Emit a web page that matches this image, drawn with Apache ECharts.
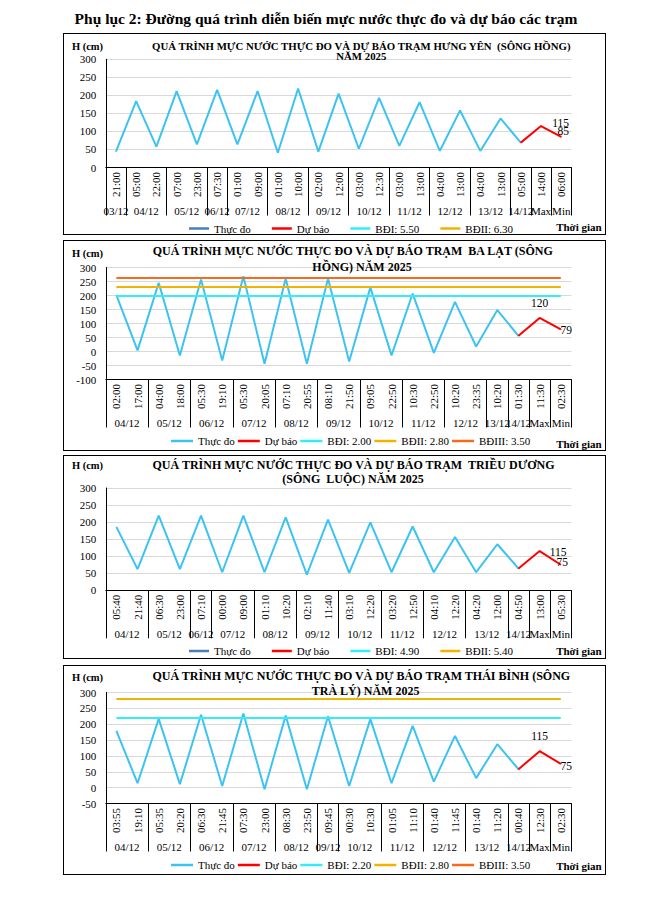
<!DOCTYPE html>
<html>
<head>
<meta charset="utf-8">
<script src="https://cdn.jsdelivr.net/npm/echarts@6/dist/echarts.min.js"></script>
<style>
  html, body { margin: 0; padding: 0; background: #fff; }
  body { width: 652px; height: 901px; position: relative; overflow: hidden; font-family: 'Liberation Serif', 'Times New Roman', serif; }
  #pageTitle { position: absolute; left: 0; width: 652px; top: 10px; text-align: center; font-weight: bold; font-size: 15.5px; line-height: 18px; color: #000; }
  .panel { position: absolute; left: 63px; width: 543px; }
  .frame { position: absolute; left: 63px; width: 543px; border: 1px solid #000; box-sizing: border-box; pointer-events: none; }
</style>
</head>
<body>
<div id="pageTitle">Phụ lục 2: Đường quá trình diễn biến mực nước thực đo và dự báo các trạm</div>
<div id="p1" class="panel"></div><div id="f1" class="frame"></div>
<div id="p2" class="panel"></div><div id="f2" class="frame"></div>
<div id="p3" class="panel"></div><div id="f3" class="frame"></div>
<div id="p4" class="panel"></div><div id="f4" class="frame"></div>
<script>
// ================= DATA =================
// --- Panel 1: Hưng Yên (sông Hồng)
const title1 = ['QUÁ TRÌNH MỰC NƯỚC THỰC ĐO VÀ DỰ BÁO TRẠM HƯNG YÊN  (SÔNG HỒNG)', 'NĂM 2025'];
const times1 = ['21:00','05:00','22:00','07:00','23:00','07:30','01:00','09:00','01:00','10:00','02:00','12:00','03:00','12:30','03:00','13:00','04:00','13:00','04:00','13:00','05:00','14:00','06:00'];
const dates1 = ['03/12','04/12','05/12','06/12','07/12','08/12','09/12','10/12','11/12','12/12','13/12','14/12','Max','Min'];
const dateSpans1 = [1,2,2,1,2,2,2,2,2,2,2,1,1,1];
const measured1 = [44,184,58,212,64,215,64,212,41,219,44,205,52,193,60,181,46,158,46,136,69,null,null];
const forecast1 = [null,null,null,null,null,null,null,null,null,null,null,null,null,null,null,null,null,null,null,null,69,115,85];
const levelNames1 = ['BĐI: 5.50','BĐII: 6.30'];
const levelValues1 = [550, 630];
const yTicks1 = [0, 300, 50];

// --- Panel 2: Ba Lạt (sông Hồng)
const title2 = ['QUÁ TRÌNH MỰC NƯỚC THỰC ĐO VÀ DỰ BÁO TRẠM  BA LẠT (SÔNG', 'HỒNG) NĂM 2025'];
const times2 = ['02:00','17:00','04:00','18:00','05:30','19:10','05:30','20:05','07:10','20:55','08:10','21:50','09:05','22:50','10:30','22:50','10:20','23:35','10:20','01:30','11:30','02:30'];
const dates2 = ['04/12','05/12','06/12','07/12','08/12','09/12','10/12','11/12','12/12','13/12','14/12','Max','Min'];
const dateSpans2 = [2,2,2,2,2,2,2,2,2,1,1,1,1];
const measured2 = [201,4,245,-14,257,-32,269,-44,261,-44,261,-36,229,-14,207,-5,177,18,148,56,null,null];
const forecast2 = [null,null,null,null,null,null,null,null,null,null,null,null,null,null,null,null,null,null,null,56,120,79];
const levelNames2 = ['BĐI: 2.00','BĐII: 2.80','BĐIII: 3.50'];
const levelValues2 = [200, 230, 263];
const yTicks2 = [-100, 300, 50];

// --- Panel 3: Triều Dương (sông Luộc)
const title3 = ['QUÁ TRÌNH MỰC NƯỚC THỰC ĐO VÀ DỰ BÁO TRẠM  TRIỀU DƯƠNG', '(SÔNG  LUỘC) NĂM 2025'];
const times3 = ['05:40','21:40','06:30','23:00','07:10','00:00','09:00','01:10','10:20','02:10','11:40','03:10','12:20','03:20','12:50','04:10','12:20','04:20','12:00','04:50','13:00','05:30'];
const dates3 = ['04/12','05/12','06/12','07/12','08/12','09/12','10/12','11/12','12/12','13/12','14/12','Max','Min'];
const dateSpans3 = [2,2,1,2,2,2,2,2,2,2,1,1,1];
const measured3 = [186,62,219,62,219,53,219,53,214,46,207,51,199,53,187,53,156,53,135,64,null,null];
const forecast3 = [null,null,null,null,null,null,null,null,null,null,null,null,null,null,null,null,null,null,null,64,115,75];
const levelNames3 = ['BĐI: 4.90','BĐII: 5.40'];
const levelValues3 = [490, 540];
const yTicks3 = [0, 300, 50];

// --- Panel 4: Thái Bình (sông Trà Lý)
const title4 = ['QUÁ TRÌNH MỰC NƯỚC THỰC ĐO VÀ DỰ BÁO TRẠM THÁI BÌNH (SÔNG', 'TRÀ LÝ) NĂM 2025'];
const times4 = ['03:55','19:10','05:35','20:20','06:30','21:45','07:30','23:00','08:30','23:50','09:45','00:30','10:30','01:05','11:10','01:40','11:45','01:40','11:20','00:40','12:30','02:30'];
const dates4 = ['04/12','05/12','06/12','07/12','08/12','09/12','10/12','11/12','12/12','13/12','14/12','Max','Min'];
const dateSpans4 = [2,2,2,2,2,1,2,2,2,2,1,1,1];
const measured4 = [179,14,217,11,230,5,234,-5,227,-5,225,5,216,14,195,19,163,30,137,58,null,null];
const forecast4 = [null,null,null,null,null,null,null,null,null,null,null,null,null,null,null,null,null,null,null,58,115,75];
const levelNames4 = ['BĐI: 2.20','BĐII: 2.80','BĐIII: 3.50'];
const levelValues4 = [220, 280, 350];
const yTicks4 = [-50, 300, 50];

const seriesNames = ['Thực đo', 'Dự báo'];
const yName = 'H (cm)';
const xName = 'Thời gian';

// ================= STYLE / LAYOUT =================
const FONT = "'Liberation Serif', 'Times New Roman', serif";
const C_MEAS = '#3CC3F2';
const C_FORE = '#FF0000';
const C_LEVEL = ['#33EEF5', '#F0B400', '#F96A1B'];
const C_LEG_MEAS_DARK = '#4A7EBB';

const layouts = [
  { el:'p1', fr:'f1', top:33, height:201, gTop:26.3, gH:108.2, tSize:10.8,
    t1:[298.3,12.5], t2:[298.3,22.8], hY:13, xnY:193.7, legY:195.5, legLeft:126, legGap:21, itemW:20,
    legMeasColor:C_LEG_MEAS_DARK, maxOff:[19.5,-3.5], minOff:[2,-5.5] },
  { el:'p2', fr:'f2', top:240, height:210, gTop:27.5, gH:112, tSize:12,
    t1:[289.7,10.7], t2:[299,27], hY:13.5, xnY:203.5, legY:201, legLeft:108, legGap:3, itemW:22,
    legMeasColor:C_MEAS, maxOff:[0,-14.5], minOff:[5.5,1] },
  { el:'p3', fr:'f3', top:455, height:203, gTop:33, gH:102.3, tSize:12,
    t1:[290.5,9.5], t2:[290,24.3], hY:10, xnY:195.7, legY:196, legLeft:126, legGap:21, itemW:20,
    legMeasColor:C_LEG_MEAS_DARK, maxOff:[18.5,0.5], minOff:[1.5,-3] },
  { el:'p4', fr:'f4', top:665, height:209, gTop:27.5, gH:111, tSize:12,
    t1:[298.3,10.7], t2:[302.6,26.2], hY:12.5, xnY:200.7, legY:200, legLeft:108, legGap:3, itemW:22,
    legMeasColor:C_MEAS, maxOff:[0,-15], minOff:[5.5,2] }
];
const GRID_LEFT = 42.8, GRID_W = 465.6, PANEL_W = 543, EXTRA_H = 12, LEG_H = 14;

const datasets = [
  { title:title1, times:times1, dates:dates1, spans:dateSpans1, meas:measured1, fore:forecast1, lvN:levelNames1, lvV:levelValues1, y:yTicks1 },
  { title:title2, times:times2, dates:dates2, spans:dateSpans2, meas:measured2, fore:forecast2, lvN:levelNames2, lvV:levelValues2, y:yTicks2 },
  { title:title3, times:times3, dates:dates3, spans:dateSpans3, meas:measured3, fore:forecast3, lvN:levelNames3, lvV:levelValues3, y:yTicks3 },
  { title:title4, times:times4, dates:dates4, spans:dateSpans4, meas:measured4, fore:forecast4, lvN:levelNames4, lvV:levelValues4, y:yTicks4 }
];

function build(D, L) {
  const el = document.getElementById(L.el);
  const H = L.height + EXTRA_H;
  el.style.top = L.top + 'px'; el.style.height = H + 'px';
  const fr = document.getElementById(L.fr);
  fr.style.top = L.top + 'px'; fr.style.height = (L.height + 1) + 'px';
  const chart = echarts.init(el, null, { renderer: 'svg', width: PANEL_W, height: H });
  const N = D.times.length;

  // boundaries and centres of the date groups (second level of the category axis)
  const bounds = [0], centres = [], nameAt = {};
  let acc = 0;
  D.spans.forEach((s, i) => { const c = acc + s / 2; centres.push(c); nameAt[String(c)] = D.dates[i]; acc += s; bounds.push(acc); });

  const foreItems = D.fore.map((v, i) => {
    if (i === N - 2) return { value: v, label: { show: true, position: 'inside', offset: L.maxOff } };
    if (i === N - 1) return { value: v, label: { show: true, position: 'inside', offset: L.minOff } };
    return v;
  });

  const txt = (text, left, top, align, size, bold) => ({
    text, left, top, textAlign: align, textVerticalAlign: 'middle', padding: 0, itemGap: 0,
    textStyle: { fontFamily: FONT, fontSize: size, fontWeight: bold ? 'bold' : 'normal', color: '#000' }
  });

  const levelColors = D.lvN.map((n, i) => C_LEVEL[i]);
  const legendData = [{ name: seriesNames[0], itemStyle: { color: L.legMeasColor } }, { name: seriesNames[1] }]
    .concat(D.lvN.map(n => ({ name: n })));

  const option = {
    animation: false,
    backgroundColor: 'transparent',
    textStyle: { fontFamily: FONT },
    title: [
      txt(D.title[0], L.t1[0], L.t1[1], 'center', L.tSize, true),
      txt(D.title[1], L.t2[0], L.t2[1], 'center', L.tSize, true),
      txt(yName, 24.5, L.hY, 'center', 10.5, true),
      txt(xName, 538.7, L.xnY, 'right', 11, true)
    ],
    legend: {
      data: legendData, left: L.legLeft, bottom: H - (L.legY + LEG_H / 2), orient: 'horizontal',
      icon: 'rect', itemWidth: L.itemW, itemHeight: 2.5, itemGap: L.legGap, padding: 0,
      textStyle: { fontFamily: FONT, fontSize: 11, color: '#000', lineHeight: LEG_H }, selectedMode: false
    },
    grid: { left: GRID_LEFT, top: L.gTop, width: GRID_W, height: L.gH, containLabel: false, outerBoundsMode: 'none' },
    xAxis: [
      { type: 'category', data: D.times, boundaryGap: true, position: 'bottom',
        axisLine: { show: true, onZero: false, lineStyle: { color: '#000', width: 1 } },
        axisTick: { show: false },
        axisLabel: { interval: 0, rotate: 90, margin: 4.5, fontFamily: FONT, fontSize: 11, color: '#000' },
        splitLine: { show: false } },
      { type: 'value', min: 0, max: N, position: 'bottom', offset: 0,
        axisLine: { show: false, onZero: false },
        splitLine: { show: false },
        axisTick: { show: true, customValues: bounds, length: 48, inside: false, lineStyle: { color: '#000', width: 1 } },
        axisLabel: { show: true, customValues: centres, margin: 38, fontFamily: FONT, fontSize: 11, color: '#000',
          formatter: v => nameAt[String(v)] || '' } }
    ],
    yAxis: {
      type: 'value', min: D.y[0], max: D.y[1], interval: D.y[2],
      axisLine: { show: true, onZero: false, lineStyle: { color: '#000', width: 1 } },
      axisTick: { show: false },
      axisLabel: { margin: 9.5, fontFamily: FONT, fontSize: 11, color: '#000' },
      splitLine: { show: true, lineStyle: { color: '#D9D9D9', width: 1 } }
    },
    series: [
      { name: seriesNames[0], type: 'line', xAxisIndex: 0, data: D.meas, color: C_MEAS,
        lineStyle: { color: C_MEAS, width: 2 }, symbol: 'none', showSymbol: false, z: 3 },
      { name: seriesNames[1], type: 'line', xAxisIndex: 0, data: foreItems, color: C_FORE,
        lineStyle: { color: C_FORE, width: 2 }, symbol: 'circle', symbolSize: 1, showSymbol: true,
        itemStyle: { color: C_FORE },
        label: { show: false, fontFamily: FONT, fontSize: 11.5, color: '#000' }, z: 4 }
    ].concat(D.lvN.map((n, i) => ({
      name: n, type: 'line', xAxisIndex: 0, data: [], color: levelColors[i],
      lineStyle: { color: levelColors[i], width: 2 }, itemStyle: { color: levelColors[i] },
      markLine: { symbol: 'none', silent: true, animation: false, label: { show: false },
        lineStyle: { color: levelColors[i], width: 2, type: 'solid' },
        data: [[{ coord: [0, D.lvV[i]] }, { coord: [N - 1, D.lvV[i]] }]] }
    })))
  };
  chart.setOption(option);
}

datasets.forEach((D, i) => build(D, layouts[i]));
</script>
</body>
</html>
